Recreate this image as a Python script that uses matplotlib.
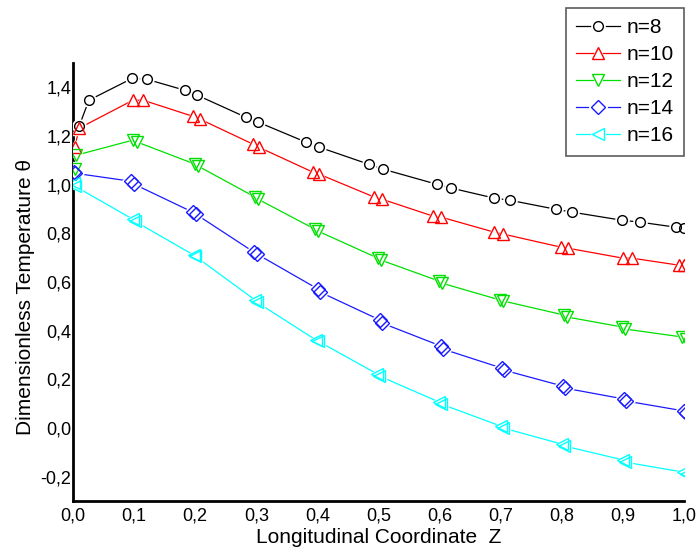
import matplotlib
matplotlib.use("Agg")
import matplotlib.pyplot as plt
from matplotlib.legend_handler import HandlerTuple

plt.rcParams["font.family"] = ["Liberation Sans", "DejaVu Sans"]

# data (two nearly overlapping runs per curve)
z8 = [0.010, 0.026, 0.097, 0.121, 0.183, 0.203, 0.283, 0.303, 0.381, 0.403, 0.484,
      0.507, 0.595, 0.619, 0.689, 0.715, 0.790, 0.817, 0.898, 0.928, 0.987, 1.000]
t8 = [1.240, 1.347, 1.437, 1.433, 1.388, 1.368, 1.277, 1.257, 1.175, 1.154, 1.084,
      1.064, 1.002, 0.986, 0.945, 0.936, 0.899, 0.887, 0.854, 0.846, 0.825, 0.821]

z10 = [0.003, 0.010, 0.098, 0.115, 0.196, 0.208, 0.295, 0.304, 0.393, 0.403, 0.493,
       0.506, 0.589, 0.602, 0.689, 0.704, 0.799, 0.810, 0.900, 0.915, 0.992, 1.000]
t10 = [1.154, 1.232, 1.347, 1.347, 1.281, 1.269, 1.166, 1.154, 1.051, 1.043, 0.949,
       0.940, 0.871, 0.867, 0.805, 0.797, 0.743, 0.739, 0.698, 0.698, 0.669, 0.669]

z12 = [0.003, 0.005, 0.098, 0.105, 0.200, 0.205, 0.298, 0.303, 0.396, 0.401, 0.499,
       0.504, 0.599, 0.604, 0.699, 0.704, 0.804, 0.809, 0.899, 0.903, 0.997, 1.003]
t12 = [1.064, 1.121, 1.183, 1.175, 1.084, 1.076, 0.949, 0.940, 0.817, 0.809, 0.698,
       0.690, 0.604, 0.595, 0.526, 0.522, 0.464, 0.456, 0.415, 0.407, 0.374, 0.366]

z14 = [0.002, 0.003, 0.095, 0.100, 0.196, 0.201, 0.296, 0.301, 0.401, 0.404, 0.502,
       0.506, 0.602, 0.606, 0.702, 0.705, 0.802, 0.805, 0.902, 0.905, 1.000, 1.003]
t14 = [1.051, 1.047, 1.014, 1.002, 0.887, 0.879, 0.723, 0.715, 0.571, 0.559, 0.444,
       0.431, 0.337, 0.324, 0.246, 0.238, 0.172, 0.164, 0.119, 0.111, 0.070, 0.062]

z16 = [0.002, 0.003, 0.098, 0.101, 0.198, 0.200, 0.298, 0.301, 0.398, 0.401, 0.498,
       0.501, 0.599, 0.602, 0.700, 0.704, 0.800, 0.804, 0.900, 0.903, 0.998, 1.003]
t16 = [1.006, 0.994, 0.858, 0.850, 0.710, 0.706, 0.526, 0.517, 0.361, 0.357, 0.222,
       0.214, 0.107, 0.099, 0.008, 0.000, -0.066, -0.074, -0.131, -0.140, -0.181, -0.189]

labels = ["n=8", "n=10", "n=12", "n=14", "n=16"]
colors = ["black", "#ff0000", "#00e000", "#1a1aff", "#00ffff"]
markers = ["o", "^", "v", "D", "<"]
xticks = [0.0, 0.1, 0.2, 0.3, 0.4, 0.5, 0.6, 0.7, 0.8, 0.9, 1.0]
yticks = [-0.2, 0.0, 0.2, 0.4, 0.6, 0.8, 1.0, 1.2, 1.4]

fig = plt.figure(figsize=(6.99, 5.52), dpi=100)
ax = fig.add_axes([73 / 699, 51 / 552, 611 / 699, 438 / 552])

handles = []
for z, t, c, m in zip([z8, z10, z12, z14, z16], [t8, t10, t12, t14, t16],
                      colors, markers):
    ms = 7 if m in ("o", "D") else 8
    ln, = ax.plot(z, t, color=c, lw=0.9, zorder=2)
    # white blobs give the little gap between line and marker
    bg, = ax.plot(z, t, ls="none", marker=m, ms=ms + 2.5, mfc="white",
                  mec="white", mew=1, zorder=3)
    fg, = ax.plot(z, t, ls="none", marker=m, ms=ms, mfc="none", mec=c,
                  mew=1.0, zorder=4)
    handles.append((ln, bg, fg))

ax.set_xlim(0, 1.0)
ax.set_ylim(-0.3, 1.5)
ax.set_xticks(xticks)
ax.set_yticks(yticks)
ax.set_xticklabels([f"{v:.1f}".replace(".", ",") for v in xticks])
ax.set_yticklabels([f"{v:.1f}".replace(".", ",").replace("-0,0", "0,0") for v in yticks])
ax.tick_params(length=0, labelsize=13)
ax.tick_params(axis="x", pad=5)
ax.tick_params(axis="y", pad=1)

for s in ["top", "right"]:
    ax.spines[s].set_visible(False)
for s in ["left", "bottom"]:
    ax.spines[s].set_linewidth(2)

ax.set_xlabel("Longitudinal Coordinate  Z", fontsize=15)
ax.set_ylabel("Dimensionless Temperature \u03b8", fontsize=15)
ax.xaxis.set_label_coords(0.5, -0.062)
ax.yaxis.set_label_coords(-0.062, 0.465)

leg = fig.legend(handles, labels, loc="upper right",
                 bbox_to_anchor=(684 / 699, 1 - 8 / 552), borderaxespad=0,
                 fontsize=15, frameon=True, fancybox=False, edgecolor="#333333",
                 handlelength=2.1, handletextpad=0.3, borderpad=0.5,
                 labelspacing=0.38, handler_map={tuple: HandlerTuple(ndivide=1)})
leg.get_frame().set_linewidth(1.2)

fig.savefig("out.png", dpi=100)
